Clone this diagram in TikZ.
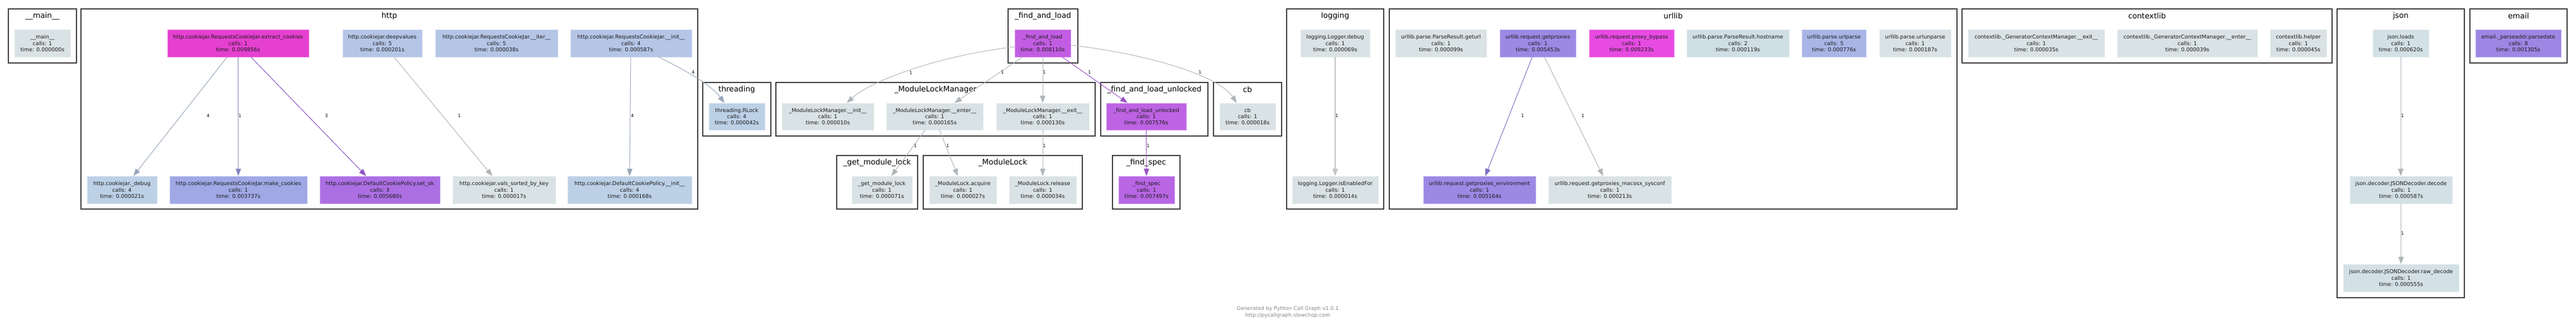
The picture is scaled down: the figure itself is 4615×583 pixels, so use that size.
\documentclass[tikz,border=0pt]{standalone}
\usepackage{fontspec}
\setmainfont{DejaVu Sans}
\usetikzlibrary{arrows.meta}
\definecolor{cgray}{HTML}{D9E2E4}
\definecolor{cmagA}{HTML}{E540D0}
\definecolor{cmagB}{HTML}{E74BE2}
\definecolor{cpurA}{HTML}{C25DE3}
\definecolor{cpurB}{HTML}{BD63E3}
\definecolor{cpurC}{HTML}{B866E4}
\definecolor{cpurD}{HTML}{AC6FE3}
\definecolor{clavA}{HTML}{9C89E4}
\definecolor{clavB}{HTML}{9E86E4}
\definecolor{cbluA}{HTML}{A0A8E5}
\definecolor{cbluB}{HTML}{A9B5E6}
\definecolor{cbluC}{HTML}{B4C5E6}
\definecolor{cbluD}{HTML}{BCD0E6}
\definecolor{cgbA}{HTML}{D0DEE5}
\definecolor{cgbB}{HTML}{D3E0E5}
\definecolor{clu}{HTML}{3A3A3A}
\definecolor{txt}{HTML}{1A1A1A}
\definecolor{egray}{HTML}{AEB4B7}
\definecolor{elgray}{HTML}{BFC4C6}
\definecolor{ebg}{HTML}{98A6B9}
\definecolor{ebp}{HTML}{7F86C0}
\definecolor{epur}{HTML}{8C4FC4}
\definecolor{epurB}{HTML}{9A52C6}
\definecolor{elav}{HTML}{7A6CC4}
\definecolor{foot}{HTML}{8A8A8A}
\tikzset{
  fn/.style={rectangle, inner sep=0pt, minimum height=49pt, align=center,
    font=\fontsize{9.5}{11.3}\selectfont, text=txt, fill=#1, draw=#1!65!white, line width=0.6pt},
  fm/.style={fn=#1, minimum height=48pt},
  clusterbox/.style={draw=clu, line width=2.3pt},
  ctitle/.style={font=\fontsize{13.6}{15}\selectfont, text=black, inner sep=0pt},
  elab/.style={font=\fontsize{8}{9}\selectfont, text=black, inner sep=0pt},
  edge/.style={draw=#1, line width=1pt, -{Triangle[length=13pt,width=9.5pt]}},
}
\begin{document}
\begin{tikzpicture}[x=1pt,y=-1pt]
\useasboundingbox[fill=white] (0,0) rectangle (4615,583);
% clusters
\draw[clusterbox] (15,16) rectangle (137,113);
\draw[clusterbox] (145,16) rectangle (1250,375);
\draw[clusterbox] (1259,148) rectangle (1381,244);
\draw[clusterbox] (1390,148) rectangle (1962,244);
\draw[clusterbox] (1806,16) rectangle (1931,113);
\draw[clusterbox] (1972,148) rectangle (2164,244);
\draw[clusterbox] (2174,148) rectangle (2296,244);
\draw[clusterbox] (1499,279) rectangle (1644,375);
\draw[clusterbox] (1654,279) rectangle (1939,375);
\draw[clusterbox] (1993,279) rectangle (2114,375);
\draw[clusterbox] (2305,16) rectangle (2479,375);
\draw[clusterbox] (2489,16) rectangle (3506,375);
\draw[clusterbox] (3515,16) rectangle (4178,113);
\draw[clusterbox] (4187,16) rectangle (4415,534);
\draw[clusterbox] (4425,16) rectangle (4599,113);
% cluster titles
\node[ctitle] (t1) at (76,28.6) {\_\_main\_\_};
\node[ctitle] (t2) at (697.5,28.6) {http};
\node[ctitle] (t3) at (1320,160.6) {threading};
\node[ctitle] (t4) at (1676,160.6) {\_ModuleLockManager};
\node[ctitle] (t5) at (1868.5,28.6) {\_find\_and\_load};
\node[ctitle] (t6) at (2068,160.6) {\_find\_and\_load\_unlocked};
\node[ctitle] (t7) at (2235,160.6) {cb};
\node[ctitle] (t8) at (1571.5,291.6) {\_get\_module\_lock};
\node[ctitle] (t9) at (1796.5,291.6) {\_ModuleLock};
\node[ctitle] (t10) at (2053.5,291.6) {\_find\_spec};
\node[ctitle] (t11) at (2392,28.6) {logging};
\node[ctitle] (t12) at (2997.5,28.6) {urllib};
\node[ctitle] (t13) at (3846.5,28.6) {contextlib};
\node[ctitle] (t14) at (4301,28.6) {json};
\node[ctitle] (t15) at (4512,28.6) {email};
% row 1
\node[fn=cgray, minimum width=100pt] (main) at (76,77.5) {\_\_main\_\_\\calls: 1\\time: 0.000000s};
\node[fn=cmagA, minimum width=253pt] (ec) at (426.5,77.5) {http.cookiejar.RequestsCookieJar.extract\_cookies\\calls: 1\\time: 0.009856s};
\node[fn=cbluC, minimum width=142pt] (dv) at (685,77.5) {http.cookiejar.deepvalues\\calls: 5\\time: 0.000201s};
\node[fn=cbluC, minimum width=219pt] (iter) at (889.5,77.5) {http.cookiejar.RequestsCookieJar.\_\_iter\_\_\\calls: 5\\time: 0.000038s};
\node[fn=cbluC, minimum width=217pt] (rinit) at (1130.5,77.5) {http.cookiejar.RequestsCookieJar.\_\_init\_\_\\calls: 4\\time: 0.000587s};
\node[fn=cpurA, minimum width=100pt] (fal) at (1868,77.5) {\_find\_and\_load\\calls: 1\\time: 0.008110s};
\node[fn=cgray, minimum width=124pt] (ldbg) at (2392,77.5) {logging.Logger.debug\\calls: 1\\time: 0.000069s};
\node[fn=cgray, minimum width=163pt] (geturl) at (2581.5,77.5) {urllib.parse.ParseResult.geturl\\calls: 1\\time: 0.000099s};
\node[fn=clavA, minimum width=136pt] (gp) at (2755,77.5) {urllib.request.getproxies\\calls: 1\\time: 0.005453s};
\node[fn=cmagB, minimum width=152pt] (pb) at (2923,77.5) {urllib.request.proxy\_bypass\\calls: 1\\time: 0.009233s};
\node[fn=cgbA, minimum width=183pt] (hn) at (3113.5,77.5) {urllib.parse.ParseResult.hostname\\calls: 2\\time: 0.000119s};
\node[fn=cbluB, minimum width=115pt] (up) at (3285.5,77.5) {urllib.parse.urlparse\\calls: 5\\time: 0.000776s};
\node[fn=cgray, minimum width=128pt] (uu) at (3431,77.5) {urllib.parse.urlunparse\\calls: 1\\time: 0.000187s};
\node[fn=cgray, minimum width=244pt] (cexit) at (3648,77.5) {contextlib.\_GeneratorContextManager.\_\_exit\_\_\\calls: 1\\time: 0.000035s};
\node[fn=cgray, minimum width=251pt] (center) at (3918.5,77.5) {contextlib.\_GeneratorContextManager.\_\_enter\_\_\\calls: 1\\time: 0.000039s};
\node[fn=cgray, minimum width=101pt] (help) at (4117.5,77.5) {contextlib.helper\\calls: 1\\time: 0.000045s};
\node[fn=cgbB, minimum width=100pt] (jl) at (4301,77.5) {json.loads\\calls: 1\\time: 0.000620s};
\node[fn=clavB, minimum width=153pt] (pd) at (4511.5,77.5) {email.\_parseaddr.parsedate\\calls: 8\\time: 0.001305s};
% row 2
\node[fm=cbluD, minimum width=100pt] (rlock) at (1320,209) {threading.RLock\\calls: 4\\time: 0.000042s};
\node[fm=cgray, minimum width=164pt] (minit) at (1483,209) {\_ModuleLockManager.\_\_init\_\_\\calls: 1\\time: 0.000010s};
\node[fm=cgray, minimum width=173pt] (menter) at (1674.5,209) {\_ModuleLockManager.\_\_enter\_\_\\calls: 1\\time: 0.000165s};
\node[fm=cgray, minimum width=166pt] (mexit) at (1868,209) {\_ModuleLockManager.\_\_exit\_\_\\calls: 1\\time: 0.000130s};
\node[fm=cpurB, minimum width=143pt] (falu) at (2053.5,209) {\_find\_and\_load\_unlocked\\calls: 1\\time: 0.007576s};
\node[fm=cgray, minimum width=100pt] (cb) at (2235,209) {cb\\calls: 1\\time: 0.000018s};
% row 3
\node[fn=cbluD, minimum width=125pt] (dbg) at (218.5,340.5) {http.cookiejar.\_debug\\calls: 4\\time: 0.000021s};
\node[fn=cbluA, minimum width=246pt] (mk) at (427,340.5) {http.cookiejar.RequestsCookieJar.make\_cookies\\calls: 1\\time: 0.003737s};
\node[fn=cpurD, minimum width=215pt] (setok) at (680.5,340.5) {http.cookiejar.DefaultCookiePolicy.set\_ok\\calls: 3\\time: 0.005680s};
\node[fn=cgray, minimum width=184pt] (vals) at (903,340.5) {http.cookiejar.vals\_sorted\_by\_key\\calls: 1\\time: 0.000017s};
\node[fn=cbluD, minimum width=222pt] (dinit) at (1128,340.5) {http.cookiejar.DefaultCookiePolicy.\_\_init\_\_\\calls: 4\\time: 0.000168s};
\node[fn=cgray, minimum width=108pt] (gml) at (1580,340.5) {\_get\_module\_lock\\calls: 1\\time: 0.000071s};
\node[fn=cgray, minimum width=120pt] (acq) at (1725,340.5) {\_ModuleLock.acquire\\calls: 1\\time: 0.000027s};
\node[fn=cgray, minimum width=120pt] (rel) at (1868,340.5) {\_ModuleLock.release\\calls: 1\\time: 0.000034s};
\node[fn=cpurC, minimum width=100pt] (fsp) at (2054,340.5) {\_find\_spec\\calls: 1\\time: 0.007497s};
\node[fn=cgray, minimum width=154pt] (isen) at (2392,340.5) {logging.Logger.isEnabledFor\\calls: 1\\time: 0.000014s};
\node[fn=clavA, minimum width=201pt] (gpe) at (2650.5,340.5) {urllib.request.getproxies\_environment\\calls: 1\\time: 0.005164s};
\node[fn=cgray, minimum width=220pt] (gpm) at (2884,340.5) {urllib.request.getproxies\_macosx\_sysconf\\calls: 1\\time: 0.000213s};
\node[fn=cgbB, minimum width=183pt] (dec) at (4301.5,340.5) {json.decoder.JSONDecoder.decode\\calls: 1\\time: 0.000587s};
% row 4
\node[fn=cgbB, minimum width=207pt] (raw) at (4301.5,498.5) {json.decoder.JSONDecoder.raw\_decode\\calls: 1\\time: 0.000555s};
% edges
\draw[edge=ebg] ([xshift=-19.5pt]ec.south) -- ([xshift=20.5pt]dbg.north);
\draw[edge=ebp] (ec.south) -- (mk.north);
\draw[edge=epur] ([xshift=23pt]ec.south) -- ([xshift=-24.5pt]setok.north);
\draw[edge=egray] ([xshift=21pt]dv.south) -- ([xshift=-21pt]vals.north);
\draw[edge=ebg] ([xshift=-0.5pt]rinit.south) -- (dinit.north);
\draw[edge=ebg] ([xshift=49.5pt]rinit.south) .. controls (1225,125) and (1272,150) .. ([xshift=-22pt]rlock.north);
\draw[edge=egray] ([yshift=-6.5pt]fal.west) .. controls (1680,100) and (1560,145) .. ([xshift=34pt]minit.north);
\draw[edge=egray] ([xshift=-36pt]fal.south) -- ([xshift=35.5pt]menter.north);
\draw[edge=egray] (fal.south) -- (mexit.north);
\draw[edge=epurB] ([xshift=35pt]fal.south) -- ([xshift=-33.5pt]falu.north);
\draw[edge=egray] ([yshift=-3.5pt]fal.east) .. controls (2060,97) and (2185,137) .. ([xshift=-19.5pt]cb.north);
\draw[edge=egray] ([xshift=-17.5pt]menter.south) -- ([xshift=17pt]gml.north);
\draw[edge=egray] ([xshift=8.5pt]menter.south) -- ([xshift=-9pt]acq.north);
\draw[edge=egray] (mexit.south) -- (rel.north);
\draw[edge=epurB] (falu.south) -- (fsp.north);
\draw[edge=elgray, line width=1.5pt] (ldbg.south) -- (isen.north);
\draw[edge=elav] ([xshift=-10pt]gp.south) -- ([xshift=10.5pt]gpe.north);
\draw[edge=egray] ([xshift=12pt]gp.south) -- ([xshift=-12pt]gpm.north);
\draw[edge=egray] (jl.south) -- ([xshift=-0.5pt]dec.north);
\draw[edge=egray] (dec.south) -- (raw.north);
% edge labels
\node[elab] (l1) at (373,208) {4};
\node[elab] (l2) at (430,208) {1};
\node[elab] (l3) at (585,208) {3};
\node[elab] (l4) at (823,208) {1};
\node[elab] (l5) at (1133,208) {4};
\node[elab] (l6) at (1242,130) {4};
\node[elab] (l7) at (1632,131) {1};
\node[elab] (l8) at (1796,130) {1};
\node[elab] (l9) at (1871,130) {1};
\node[elab] (l10) at (1952,130) {1};
\node[elab] (l11) at (2150,130) {1};
\node[elab] (l12) at (1640,262) {1};
\node[elab] (l13) at (1698,262) {1};
\node[elab] (l14) at (1871,262) {1};
\node[elab] (l15) at (2057,262) {1};
\node[elab] (l16) at (2395,208) {1};
\node[elab] (l17) at (2728,208) {1};
\node[elab] (l18) at (2836,208) {1};
\node[elab] (l19) at (4304,208) {1};
\node[elab] (l20) at (4304,419) {1};
% footer
\node[align=center, font=\fontsize{9.3}{11.5}\selectfont, text=foot, inner sep=0pt] (footer) at (2307,559.8) {Generated by Python Call Graph v1.0.1\\http://pycallgraph.slowchop.com};
\end{tikzpicture}
\end{document}
